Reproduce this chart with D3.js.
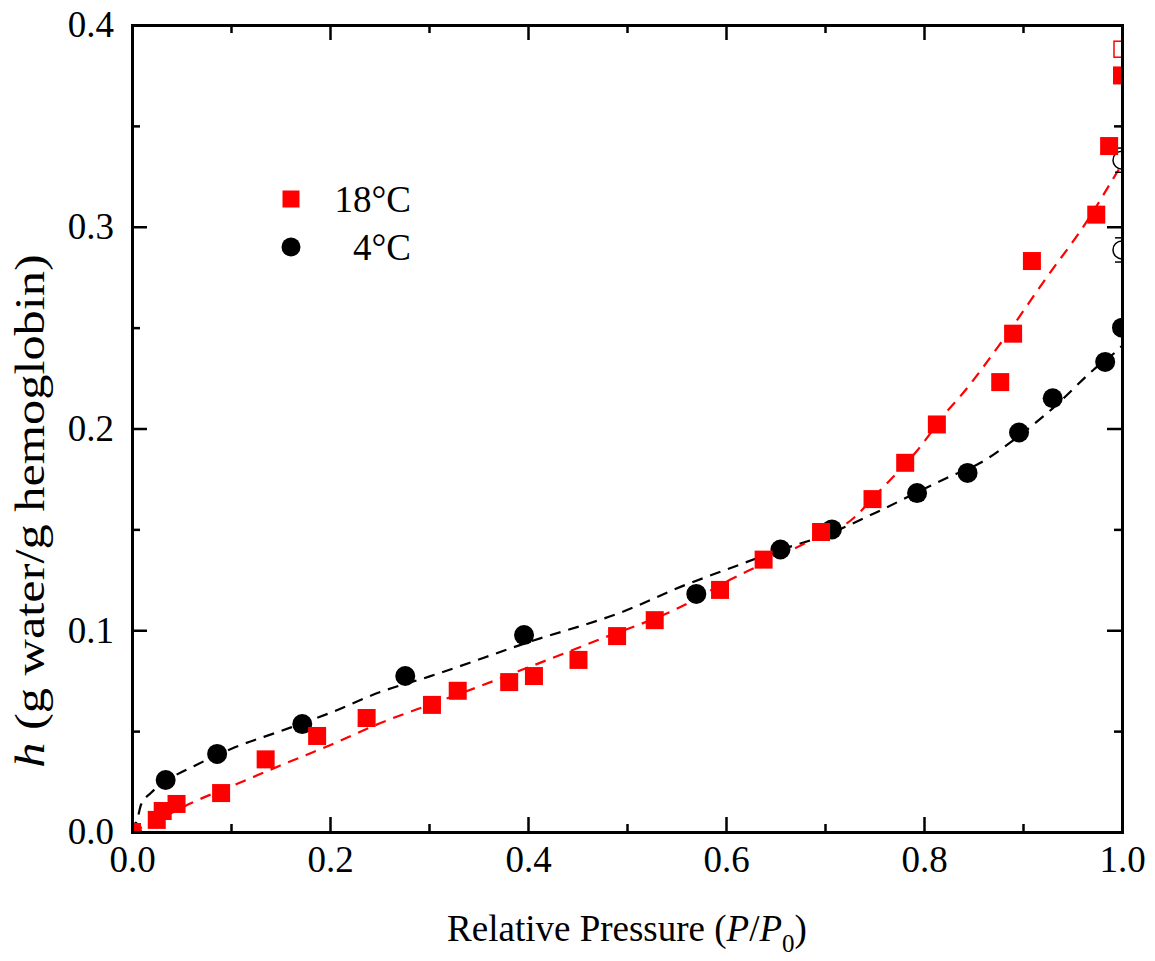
<!doctype html>
<html lang="en">
<head>
  <meta charset="utf-8">
  <title>Water sorption of hemoglobin</title>
  <style>
    body { margin: 0; background: #fff; }
    svg { display: block; }
    svg text { font-family: 'Liberation Serif', 'Times New Roman', Times, serif; fill: #000; }
    .axis path, .axis line { stroke: #000; }
    .axis path { stroke-width: 3; }
    .axis line { stroke-width: 2.5; }
    .axis text { font-size: 37px; }
  </style>
</head>
<body>
  <div id="chart"></div>
  <script src="https://cdn.jsdelivr.net/npm/d3@7"></script>
  <script>
  // measured points, 18 C (red squares) and 4 C (black circles)
  var pts18 = [[0,0],[0.025,0.006],[0.031,0.0104],[0.045,0.0139],[0.090,0.0193],[0.135,0.036],
    [0.187,0.0476],[0.237,0.0565],[0.303,0.063],[0.329,0.070],[0.381,0.0743],[0.406,0.0773],
    [0.451,0.0853],[0.490,0.0971],[0.528,0.105],[0.594,0.120],[0.638,0.135],[0.696,0.1487],
    [0.748,0.165],[0.781,0.183],[0.813,0.202],[0.877,0.223],[0.890,0.247],[0.909,0.283],
    [0.974,0.306],[0.987,0.340],[1.0,0.375]];
  var open18 = [[1.0,0.388]];

  var pts4 = [[0,0],[0.034,0.0258],[0.086,0.0387],[0.172,0.0535],[0.276,0.0773],[0.396,0.0976],
    [0.570,0.118],[0.655,0.140],[0.707,0.150],[0.793,0.168],[0.844,0.178],[0.896,0.198],
    [0.930,0.215],[0.983,0.233],[1.0,0.250]];
  var open4 = [[1.0,0.333],[1.0,0.2885]];
  var open4Err = [0.006,0.006];

  // fitted curves (dashed)
  var fit18 = [[0,0],[0.03,0.007],[0.06,0.0144],[0.107,0.024],[0.15,0.033],[0.2,0.043],[0.251,0.054],
    [0.3,0.063],[0.35,0.072],[0.392,0.080],[0.47,0.095],[0.554,0.1115],[0.604,0.125],[0.629,0.131],
    [0.705,0.149],[0.722,0.153],[0.756,0.1695],[0.793,0.189],[0.824,0.209],[0.836,0.2156],
    [0.880,0.244],[0.922,0.2736],[0.965,0.303],[0.995,0.327],[1.0,0.331]];
  var fit4 = [[0,0],[0.006,0.0074],[0.009,0.0134],[0.019,0.0193],[0.033,0.0248],[0.064,0.033],
    [0.104,0.042],[0.15,0.050],[0.2,0.059],[0.251,0.0694],[0.3,0.077],[0.4,0.094],[0.5,0.110],
    [0.554,0.1215],[0.6,0.130],[0.65,0.139],[0.705,0.148],[0.75,0.158],[0.823,0.1755],
    [0.857,0.183],[0.895,0.196],[0.93,0.210],[0.971,0.229],[0.998,0.240],[1.0,0.241]];

  var xMajor = [0, 0.2, 0.4, 0.6, 0.8, 1.0];
  var xMinor = [0.1, 0.3, 0.5, 0.7, 0.9];
  var yMajor = [0, 0.1, 0.2, 0.3, 0.4];
  var yMinor = [0.05, 0.15, 0.25, 0.35];

  var legendItems = [{label: "18\u00B0C", color: "red", shape: "square"},
                     {label: "4\u00B0C", color: "black", shape: "circle"}];

  var width = 1155, height = 961;
  var margin = {top: 25, right: 33, bottom: 129, left: 132};
  var w = width - margin.left - margin.right;
  var h = height - margin.top - margin.bottom;
  var serif = "'Liberation Serif', 'Times New Roman', Times, serif";
  var fs = 37;

  var svg = d3.select("#chart").append("svg")
      .attr("width", width).attr("height", height)
      .attr("font-family", serif);

  svg.append("defs").append("clipPath").attr("id", "clip")
    .append("rect").attr("width", w).attr("height", h);

  var g = svg.append("g").attr("transform", "translate(" + margin.left + "," + margin.top + ")");

  var x = d3.scaleLinear().domain([0, 1]).range([0, w]);
  var y = d3.scaleLinear().domain([0, 0.4]).range([h, 0]);

  var plot = g.append("g").attr("clip-path", "url(#clip)");

  var line = d3.line().x(function(d) { return x(d[0]); }).y(function(d) { return y(d[1]); })
      .curve(d3.curveMonotoneX);

  plot.append("path").datum(fit4).attr("d", line)
    .attr("fill", "none").attr("stroke", "black").attr("stroke-width", 2.2).attr("stroke-dasharray", "11,8");
  plot.append("path").datum(fit18).attr("d", line)
    .attr("fill", "none").attr("stroke", "red").attr("stroke-width", 2.2).attr("stroke-dasharray", "11,8");

  var sq = 18, r = 10;

  // open circle error bars
  open4.forEach(function(d, i) {
    var e = open4Err[i];
    plot.append("line").attr("x1", x(d[0])).attr("x2", x(d[0]))
      .attr("y1", y(d[1] - e)).attr("y2", y(d[1] + e)).attr("stroke", "black").attr("stroke-width", 1.5);
    [d[1] - e, d[1] + e].forEach(function(v) {
      plot.append("line").attr("x1", x(d[0]) - 7).attr("x2", x(d[0]) + 7)
        .attr("y1", y(v)).attr("y2", y(v)).attr("stroke", "black").attr("stroke-width", 1.5);
    });
  });

  plot.selectAll(".c4").data(pts4).enter().append("circle")
    .attr("cx", function(d) { return x(d[0]); }).attr("cy", function(d) { return y(d[1]); })
    .attr("r", r).attr("fill", "black");
  plot.selectAll(".o4").data(open4).enter().append("circle")
    .attr("cx", function(d) { return x(d[0]); }).attr("cy", function(d) { return y(d[1]); })
    .attr("r", r - 1).attr("fill", "white").attr("stroke", "black").attr("stroke-width", 1.5);

  plot.selectAll(".s18").data(pts18).enter().append("rect")
    .attr("x", function(d) { return x(d[0]) - sq / 2; }).attr("y", function(d) { return y(d[1]) - sq / 2; })
    .attr("width", sq).attr("height", sq).attr("fill", "red");
  plot.selectAll(".o18").data(open18).enter().append("rect")
    .attr("x", function(d) { return x(d[0]) - sq / 2 + 1; }).attr("y", function(d) { return y(d[1]) - sq / 2 + 1; })
    .attr("width", sq - 2).attr("height", sq - 2).attr("fill", "white").attr("stroke", "red").attr("stroke-width", 1.5);

  // axes, ticks pointing inward on all four sides
  function fmt(d) { return d3.format(".1f")(d); }
  function axisG(tr) {
    var a = g.append("g").attr("class", "axis");
    if (tr) a.attr("transform", tr);
    return a;
  }
  axisG("translate(0," + h + ")")
    .call(d3.axisBottom(x).tickValues(xMajor).tickSize(-15).tickPadding(14).tickFormat(fmt));
  axisG("translate(0," + h + ")")
    .call(d3.axisBottom(x).tickValues(xMinor).tickSize(-8).tickFormat(""))
    .select(".domain").remove();
  axisG().call(d3.axisTop(x).tickValues(xMajor).tickSize(-15).tickFormat(""));
  axisG().call(d3.axisTop(x).tickValues(xMinor).tickSize(-8).tickFormat(""))
    .select(".domain").remove();

  axisG().call(d3.axisLeft(y).tickValues(yMajor).tickSize(-15).tickPadding(18).tickFormat(fmt));
  axisG().call(d3.axisLeft(y).tickValues(yMinor).tickSize(-8).tickFormat(""))
    .select(".domain").remove();
  axisG("translate(" + w + ",0)")
    .call(d3.axisRight(y).tickValues(yMajor).tickSize(-15).tickFormat(""));
  axisG("translate(" + w + ",0)")
    .call(d3.axisRight(y).tickValues(yMinor).tickSize(-8).tickFormat(""))
    .select(".domain").remove();
  g.selectAll(".axis").attr("font-family", serif).attr("font-size", fs);
  g.selectAll(".axis .domain").attr("stroke-linecap", "square");

  // axis titles
  var xt = svg.append("text").attr("x", 627).attr("y", 941).attr("text-anchor", "middle")
    .attr("font-size", fs);
  xt.append("tspan").text("Relative Pressure (");
  xt.append("tspan").attr("font-style", "italic").text("P");
  xt.append("tspan").text("/");
  xt.append("tspan").attr("font-style", "italic").text("P");
  xt.append("tspan").attr("font-size", 25).attr("dy", 11).text("0");
  xt.append("tspan").attr("dy", -11).text(")");

  // the y title in the original runs longer than the x title
  var yt = svg.append("text").attr("transform", "translate(44,511) rotate(-90) scale(1.2,1)")
    .attr("text-anchor", "middle").attr("font-size", 42);
  yt.append("tspan").attr("font-style", "italic").text("h");
  yt.append("tspan").text(" (g water/g hemoglobin)");

  // legend
  var leg = svg.append("g");
  legendItems.forEach(function(d, i) {
    var cy = 199 + i * 48;
    if (d.shape === "square") {
      leg.append("rect").attr("x", 291 - 8.5).attr("y", cy - 8.5).attr("width", 17).attr("height", 17).attr("fill", d.color);
    } else {
      leg.append("circle").attr("cx", 291).attr("cy", cy).attr("r", 9.5).attr("fill", d.color);
    }
    leg.append("text").attr("x", 411).attr("y", cy + 13).attr("text-anchor", "end")
      .attr("font-size", fs).text(d.label);
  });
  </script>
</body>
</html>
